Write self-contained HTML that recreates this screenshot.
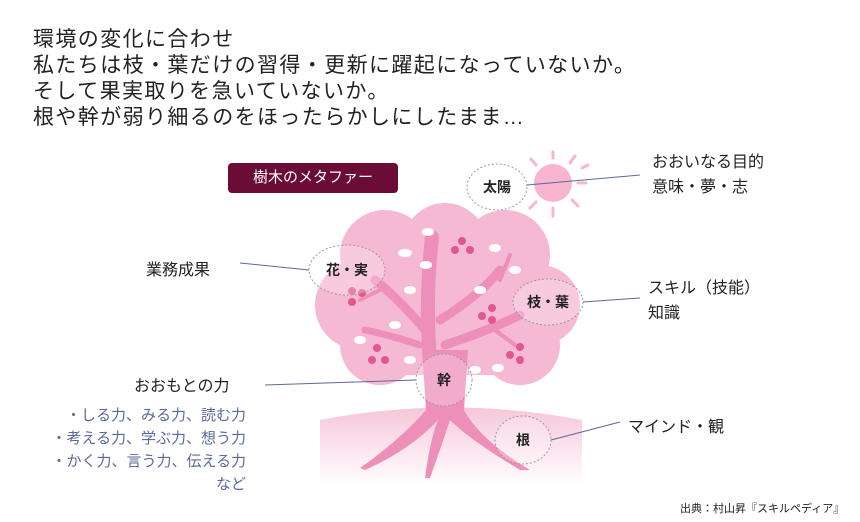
<!DOCTYPE html>
<html><head><meta charset="utf-8"><style>
body{margin:0;width:860px;height:522px;background:#fff;position:relative;overflow:hidden;font-family:"Liberation Sans","Noto Sans CJK JP",sans-serif;color:#222}
.t{position:absolute;white-space:nowrap}
</style></head><body>
<div class="t" style="left:33px;top:27px;font-size:21px;line-height:26px;letter-spacing:1.4px">環境の変化に合わせ<br>私たちは枝・葉だけの習得・更新に躍起になっていないか。<br>そして果実取りを急いていないか。<br>根や幹が弱り細るのをほったらかしにしたまま…</div>
<div class="t" style="left:228px;top:163px;width:170px;height:30px;background:#6a0c35;border-radius:4px;color:#fff;font-size:15px;line-height:30px;text-align:center">樹木のメタファー</div>
<svg width="860" height="522" style="position:absolute;left:0;top:0">
<defs><linearGradient id="g" x1="0" y1="0" x2="0" y2="1"><stop offset="0" stop-color="#f7c6da"/><stop offset="1" stop-color="#fff"/></linearGradient></defs>
<path d="M320 420 Q450 395 582 420 L582 485 L320 485Z" fill="url(#g)"/>
<g fill="#f5b9d3">
<circle cx="385" cy="255" r="45"/><circle cx="445" cy="245" r="42"/><circle cx="505" cy="255" r="45"/>
<circle cx="360" cy="305" r="45"/><circle cx="540" cy="305" r="40"/><circle cx="380" cy="345" r="40"/><circle cx="520" cy="345" r="40"/>
<circle cx="450" cy="300" r="70"/><rect x="355" y="300" width="190" height="75" rx="30"/>
</g>
<g stroke="#ee8fba" fill="none" stroke-linecap="round">
<path d="M430 360 Q425 300 432 237" stroke-width="14"/>
<path d="M425 330 Q400 300 375 280" stroke-width="9"/>
<path d="M440 320 Q480 295 500 270" stroke-width="9"/>
<path d="M445 345 Q490 330 520 315" stroke-width="9"/>
<path d="M420 345 Q390 335 365 330" stroke-width="7"/>
<path d="M380 290 L360 300" stroke-width="4"/><path d="M500 280 L510 255" stroke-width="4"/><path d="M495 330 L515 345" stroke-width="4"/>
</g>
<path d="M422 350 L468 350 L464 410 Q480 440 530 470 L520 470 Q470 440 450 420 Q440 450 430 478 L425 478 Q430 440 438 420 Q410 450 365 470 L360 468 Q400 440 426 410Z" fill="#ee8fba"/>
<g fill="#fff">
<ellipse cx="428" cy="232" rx="6" ry="4"/><ellipse cx="405" cy="253" rx="7" ry="4"/><ellipse cx="426" cy="265" rx="6" ry="4"/><ellipse cx="410" cy="290" rx="6" ry="4"/><ellipse cx="395" cy="325" rx="6" ry="4"/><ellipse cx="360" cy="340" rx="6" ry="4"/><ellipse cx="410" cy="360" rx="6" ry="4"/><ellipse cx="495" cy="248" rx="6" ry="4"/><ellipse cx="515" cy="270" rx="6" ry="4"/><ellipse cx="480" cy="290" rx="6" ry="4"/><ellipse cx="475" cy="370" rx="6" ry="4"/><ellipse cx="498" cy="368" rx="6" ry="4"/>
</g>
<g fill="#e2588e">
<circle cx="462" cy="241" r="4"/><circle cx="455" cy="250" r="4"/><circle cx="470" cy="250" r="4"/>
<circle cx="352" cy="291" r="4"/><circle cx="362" cy="293" r="4"/><circle cx="352" cy="302" r="4"/>
<circle cx="492" cy="308" r="4"/><circle cx="482" cy="316" r="4"/><circle cx="492" cy="320" r="4"/>
<circle cx="377" cy="348" r="4"/><circle cx="372" cy="360" r="4"/><circle cx="385" cy="360" r="4"/>
<circle cx="520" cy="347" r="4"/><circle cx="510" cy="355" r="4"/><circle cx="520" cy="360" r="4"/>
</g>
<g stroke="#f7b5cf" stroke-width="3" stroke-linecap="round">
<line x1="553" y1="158" x2="553" y2="152"/><line x1="570" y1="163" x2="575" y2="156"/><line x1="578" y1="183" x2="586" y2="183"/><line x1="572" y1="200" x2="578" y2="206"/><line x1="553" y1="208" x2="553" y2="216"/><line x1="536" y1="202" x2="530" y2="208"/><line x1="536" y1="165" x2="531" y2="159"/><line x1="582" y1="168" x2="588" y2="165"/>
</g>
<circle cx="553" cy="183" r="19" fill="#f7b5cf"/>
<g stroke="#5a6a9a" stroke-width="1"><line x1="527" y1="185" x2="640" y2="175"/><line x1="309" y1="270" x2="240" y2="263"/><line x1="583" y1="302" x2="640" y2="298"/><line x1="416" y1="380" x2="265" y2="385"/><line x1="551" y1="440" x2="620" y2="422"/></g>
<g fill="rgba(255,255,255,0.25)" stroke="#999" stroke-dasharray="2 2">
<ellipse cx="497" cy="187" rx="30" ry="23"/><ellipse cx="347" cy="270" rx="38" ry="25"/><ellipse cx="548" cy="302" rx="35" ry="23"/><ellipse cx="444" cy="380" rx="28" ry="26"/><ellipse cx="523" cy="440" rx="28" ry="24"/>
</g>
<g font-size="14" font-weight="bold" text-anchor="middle" fill="#222" font-family="Liberation Sans, Noto Sans CJK JP, sans-serif">
<text x="497" y="192">太陽</text><text x="347" y="275">花・実</text><text x="548" y="307">枝・葉</text><text x="444" y="385">幹</text><text x="523" y="445">根</text>
</g>
</svg>
<div class="t" style="left:652px;top:150px;font-size:16px;line-height:25px">おおいなる目的<br>意味・夢・志</div>
<div class="t" style="left:648px;top:276px;font-size:16px;line-height:25px">スキル（技能）<br>知識</div>
<div class="t" style="left:628px;top:413px;font-size:16px">マインド・観</div>
<div class="t" style="left:146px;top:256px;font-size:16px">業務成果</div>
<div class="t" style="left:134px;top:372px;font-size:16px">おおもとの力</div>
<div class="t" style="right:614px;top:404px;font-size:15px;line-height:23px;color:#5a6a9a;text-align:right">・しる力、みる力、読む力<br>・考える力、学ぶ力、想う力<br>・かく力、言う力、伝える力<br>など</div>
<div class="t" style="left:680px;top:500px;font-size:11px">出典：村山昇『スキルペディア』</div>
</body></html>
